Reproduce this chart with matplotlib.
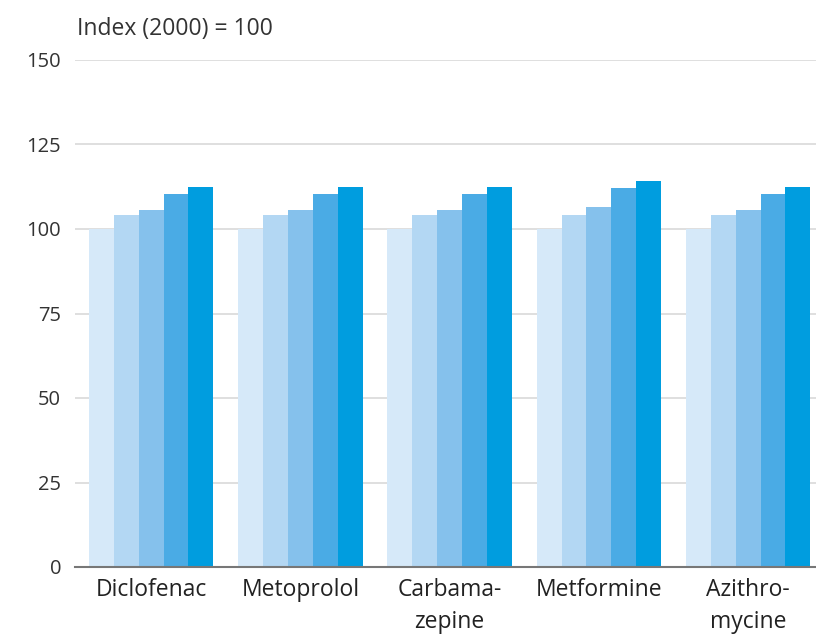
import matplotlib
matplotlib.use("Agg")
import matplotlib.pyplot as plt
import numpy as np

plt.rcParams['font.family'] = ['Open Sans', 'DejaVu Sans']

categories = ["Diclofenac", "Metoprolol", "Carbama-\nzepine", "Metformine", "Azithro-\nmycine"]
series = [
    [100, 100, 100, 100, 100],
    [104, 104, 104, 104, 104],
    [105.5, 105.5, 105.5, 106.6, 105.5],
    [110.3, 110.3, 110.3, 112, 110.3],
    [112.4, 112.4, 112.4, 114.3, 112.4],
]
colors = ["#d6e9f9", "#b3d7f3", "#85c1ec", "#4aabe5", "#009ddf"]
yticks = [0, 25, 50, 75, 100, 125, 150]

fig = plt.figure(figsize=(8.16, 6.35), dpi=100)
ax = fig.add_axes([75 / 816, 1 - 567 / 635, 1 - 75 / 816, (567 - 60) / 635])

x = np.arange(len(categories))
w = 1 / 6
for i, (vals, c) in enumerate(zip(series, colors)):
    ax.bar(x + (i - 2) * w, vals, width=w, color=c, zorder=3, linewidth=0)

ax.set_xlim(-0.51, 4.455)
ax.set_ylim(0, 150)
ax.set_yticks(yticks)
ax.set_yticklabels([str(t) for t in yticks], fontsize=14.5, color="#333333")
ax.set_xticks(x)
ax.set_xticklabels(categories, fontsize=16.5, color="#222222", linespacing=1.45)
ax.tick_params(axis="y", length=0, pad=10)
ax.tick_params(axis="x", length=0, pad=8)
ax.grid(axis="y", color="#d9d9d9", linewidth=1.2, zorder=0)
for s in ["top", "right", "left"]:
    ax.spines[s].set_visible(False)
ax.spines["bottom"].set_color("#777777")
ax.spines["bottom"].set_linewidth(1.5)
ax.spines["bottom"].set_zorder(4)

fig.text(77 / 816, 1 - 29 / 635, "Index (2000) = 100", fontsize=16.5, color="#333333", va="center", ha="left")

fig.savefig("out.png", dpi=100)
